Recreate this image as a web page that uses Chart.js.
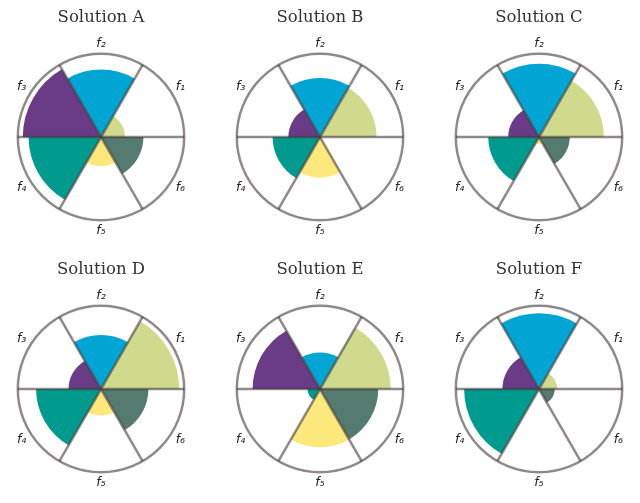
<!DOCTYPE html>
<html>
<head>
<meta charset="utf-8">
<script src="https://cdn.jsdelivr.net/npm/chart.js"></script>
<style>
  html, body { margin: 0; padding: 0; background: #fff; }
  #wrap { position: relative; width: 640px; height: 503px; overflow: hidden; }
  .panel { position: absolute; width: 194px; height: 240px; }
</style>
</head>
<body>
<div id="wrap"></div>
<script>
// objectives, listed f1..f6 (counter-clockwise from 3 o'clock)
const labels = ['f\u2081', 'f\u2082', 'f\u2083', 'f\u2084', 'f\u2085', 'f\u2086'];
const colors = ['#cfda8c', '#00a5d3', '#6a3b87', '#009a8f', '#fde87c', '#557a6f'];

const titles = ['Solution A', 'Solution B', 'Solution C', 'Solution D', 'Solution E', 'Solution F'];

// normalised objective values per solution (radius / outer circle)
const solA = [0.29, 0.81, 0.94, 0.87, 0.35, 0.51];
const solB = [0.68, 0.71, 0.38, 0.57, 0.49, 0.00];
const solC = [0.78, 0.88, 0.37, 0.61, 0.08, 0.37];
const solD = [0.94, 0.65, 0.39, 0.78, 0.32, 0.57];
const solE = [0.85, 0.44, 0.81, 0.15, 0.70, 0.70];
const solF = [0.22, 0.91, 0.44, 0.90, 0.00, 0.19];

const solutions = [solA, solB, solC, solD, solE, solF];

const centersX = [101, 320, 539];
const centersY = [136, 388];

const wrap = document.getElementById('wrap');
const lineCol = 'rgba(70,58,58,0.6)';

solutions.forEach((vals, i) => {
    const div = document.createElement('div');
    div.className = 'panel';
    const col = i % 3, row = Math.floor(i / 3);
    div.style.left = (centersX[col] - 97) + 'px';
    div.style.top = (centersY[row] - 136) + 'px';
    const canvas = document.createElement('canvas');
    div.appendChild(canvas);
    wrap.appendChild(div);

    // chart.js goes clockwise, so feed f6..f1 starting at 3 o'clock
    new Chart(canvas, {
        type: 'polarArea',
        data: {
            labels: labels.slice().reverse(),
            datasets: [{
                data: vals.slice().reverse(),
                backgroundColor: colors.slice().reverse(),
                borderWidth: 0
            }]
        },
        options: {
            responsive: true,
            maintainAspectRatio: false,
            animation: false,
            layout: { padding: 0 },
            plugins: {
                legend: { display: false },
                tooltip: { enabled: false },
                title: {
                    display: true,
                    text: titles[i],
                    color: '#333',
                    font: { family: 'DejaVu Serif', size: 16.5, weight: 'normal', lineHeight: 1.2 },
                    padding: { top: 8, bottom: 8 }
                }
            },
            scales: {
                r: {
                    min: 0,
                    max: 1,
                    startAngle: 90,
                    ticks: { display: false, stepSize: 1 },
                    grid: { z: 1, circular: true, color: lineCol, lineWidth: 2.5 },
                    angleLines: { display: true, color: lineCol, lineWidth: 2.5 },
                    pointLabels: {
                        display: true,
                        centerPointLabels: true,
                        padding: 3,
                        color: '#222',
                        font: { family: 'DejaVu Sans', size: 12.5, style: 'italic' }
                    }
                }
            }
        }
    });
});
</script>
</body>
</html>
